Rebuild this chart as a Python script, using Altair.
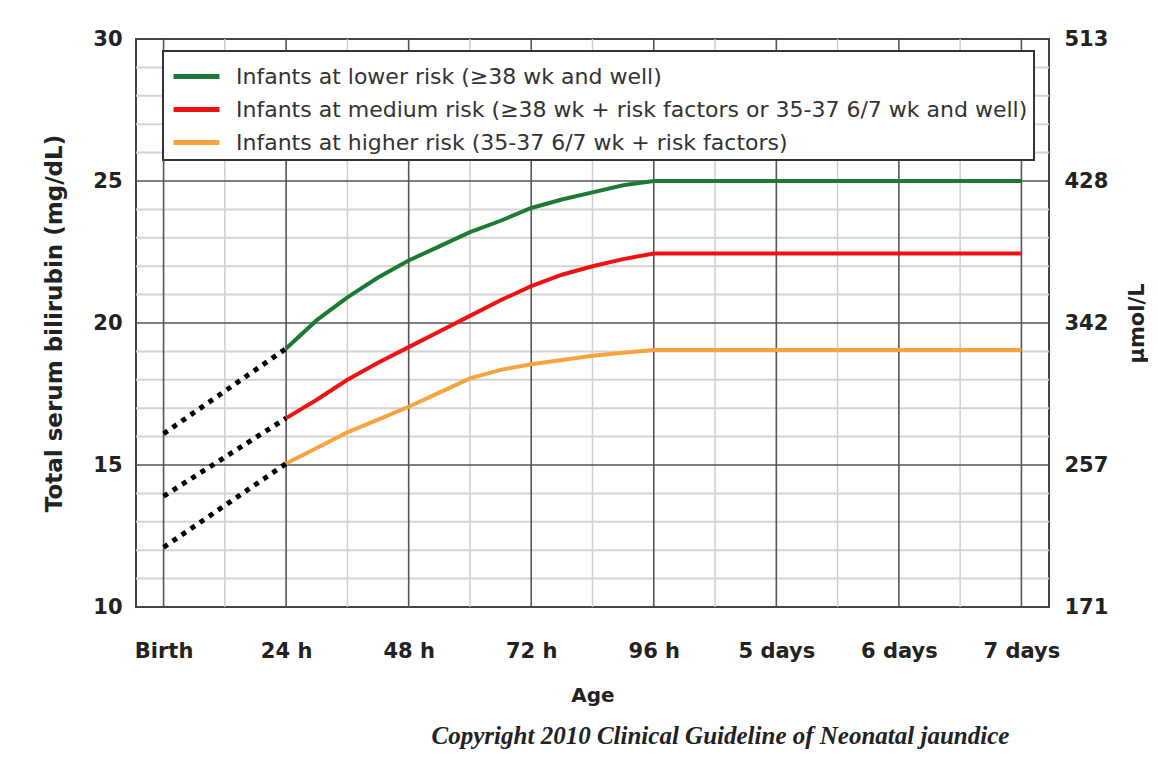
import altair as alt
import pandas as pd

# ---- data ----
age_ticks = [0, 1, 2, 3, 4, 5, 6, 7]
age_labels = ["Birth", "24 h", "48 h", "72 h", "96 h", "5 days", "6 days", "7 days"]
age_minor = [0.5, 1.5, 2.5, 3.5, 4.5, 5.5, 6.5]

mg_ticks = [10, 15, 20, 25, 30]
umol_labels = ["171", "257", "342", "428", "513"]
mg_major = [15, 20, 25]
mg_minor = [11, 12, 13, 14, 16, 17, 18, 19, 21, 22, 23, 24, 26, 27, 28, 29]

series_names = [
    "Infants at lower risk (\u226538 wk and well)",
    "Infants at medium risk (\u226538 wk + risk factors or 35-37 6/7 wk and well)",
    "Infants at higher risk (35-37 6/7 wk + risk factors)",
]
series_colors = ["#1c7a34", "#f01212", "#f7a33e"]

days = [1.0, 1.25, 1.5, 1.75, 2.0, 2.25, 2.5, 2.75, 3.0, 3.25, 3.5, 3.75, 4.0, 5.0, 6.0, 7.0]
lower = [19.1, 20.1, 20.9, 21.6, 22.2, 22.7, 23.2, 23.6, 24.05, 24.35, 24.6, 24.85, 25.0, 25.0, 25.0, 25.0]
medium = [16.65, 17.3, 18.0, 18.6, 19.15, 19.7, 20.25, 20.8, 21.3, 21.7, 22.0, 22.25, 22.45, 22.45, 22.45, 22.45]
higher = [15.05, 15.6, 16.15, 16.6, 17.05, 17.55, 18.05, 18.35, 18.55, 18.7, 18.85, 18.95, 19.05, 19.05, 19.05, 19.05]

dot_days = [0.0, 1.0]
dot_lower = [16.1, 19.1]
dot_medium = [13.9, 16.65]
dot_higher = [12.1, 15.05]

# ---- tables ----
rows = []
for name, vals in zip(series_names, [lower, medium, higher]):
    for d, v in zip(days, vals):
        rows.append({"day": d, "value": v, "series": name})
df_lines = pd.DataFrame(rows)

rows = []
for name, vals in zip(series_names, [dot_lower, dot_medium, dot_higher]):
    for d, v in zip(dot_days, vals):
        rows.append({"day": d, "value": v, "series": name})
df_dots = pd.DataFrame(rows)

W, H = 913, 568
FONT = "DejaVu Sans"

x_expr = " : ".join(f"datum.value == {v} ? '{l}'" for v, l in zip(age_ticks, age_labels)) + " : ''"
y2_expr = " : ".join(f"datum.value == {v} ? '{l}'" for v, l in zip(mg_ticks, umol_labels)) + " : ''"

xscale = alt.Scale(domain=[-0.225, 7.225], nice=False, zero=False)
yscale = alt.Scale(domain=[10, 30], nice=False, zero=False)

xaxis = alt.Axis(
    values=age_ticks, labelExpr=x_expr, title="Age", grid=False, ticks=False, domain=False,
    labelFont=FONT, labelFontWeight="bold", labelFontSize=21, labelColor="#222",
    labelPadding=33, titleFont=FONT, titleFontWeight="bold", titleFontSize=20,
    titleColor="#222", titlePadding=24,
)
yaxis = alt.Axis(
    values=mg_ticks, title="Total serum bilirubin (mg/dL)", grid=False, ticks=False, domain=False,
    labelFont=FONT, labelFontWeight="bold", labelFontSize=21, labelColor="#222",
    labelPadding=14, titleFont=FONT, titleFontWeight="bold", titleFontSize=23,
    titleColor="#222", titlePadding=26,
)

X = lambda f: alt.X(f, scale=xscale, axis=xaxis)
Y = lambda f: alt.Y(f, scale=yscale, axis=yaxis)

vminor = alt.Chart(pd.DataFrame({"x": age_minor})).mark_rule(color="#cfcfcf", strokeWidth=1.5).encode(x=X("x:Q"))
hminor = alt.Chart(pd.DataFrame({"y": mg_minor})).mark_rule(color="#d3d3d3", strokeWidth=2).encode(y=Y("y:Q"))
vmajor = alt.Chart(pd.DataFrame({"x": age_ticks})).mark_rule(color="#555", strokeWidth=1.6).encode(x=X("x:Q"))
hmajor = alt.Chart(pd.DataFrame({"y": mg_major})).mark_rule(color="#555", strokeWidth=1.6).encode(y=Y("y:Q"))

dots = alt.Chart(df_dots).mark_line(color="black", strokeWidth=5, strokeDash=[5, 6]).encode(
    x=X("day:Q"), y=Y("value:Q"), detail="series:N"
)

lines = alt.Chart(df_lines).mark_line(strokeWidth=4).encode(
    x=X("day:Q"),
    y=Y("value:Q"),
    color=alt.Color(
        "series:N",
        scale=alt.Scale(domain=series_names, range=series_colors),
        sort=series_names,
        legend=alt.Legend(
            title=None, orient="none", legendX=27, legendY=12,
            symbolType="M-1.35,0H1.35", symbolStrokeWidth=5, symbolSize=1156,
            symbolOffset=8,
            labelFont=FONT, labelFontSize=22, labelColor="#333", labelLimit=0,
            labelOffset=20, rowPadding=2, padding=6,
            fillColor="white", strokeColor="#333",
        ),
    ),
)

main = alt.layer(vminor, hminor, vmajor, hmajor, dots, lines)

right = alt.Chart(pd.DataFrame({"v": [10, 30]})).mark_point(opacity=0).encode(
    y=alt.Y("v:Q", scale=yscale, axis=alt.Axis(
        orient="right", values=mg_ticks, labelExpr=y2_expr, title="\u03bcmol/L", titleAngle=270,
        grid=False, ticks=False, domain=False,
        labelFont=FONT, labelFontWeight="bold", labelFontSize=21, labelColor="#222",
        labelPadding=15, titleFont=FONT, titleFontWeight="bold", titleFontSize=21,
        titleColor="#222", titlePadding=40,
    ))
)

chart = alt.layer(main, right).resolve_scale(y="independent").properties(
    width=W, height=H,
    padding={"left": 35, "top": 20, "right": 0, "bottom": 5},
    title=alt.TitleParams(
        "Copyright 2010 Clinical Guideline of Neonatal jaundice",
        orient="bottom", anchor="middle", dx=128, offset=19,
        font="Liberation Serif", fontStyle="italic", fontWeight="bold", fontSize=25, color="#222",
    ),
).configure_view(stroke="#444", strokeWidth=2).configure_legend(strokeWidth=2)

chart.save("out.html", embed_options={"renderer": "svg", "actions": False})
